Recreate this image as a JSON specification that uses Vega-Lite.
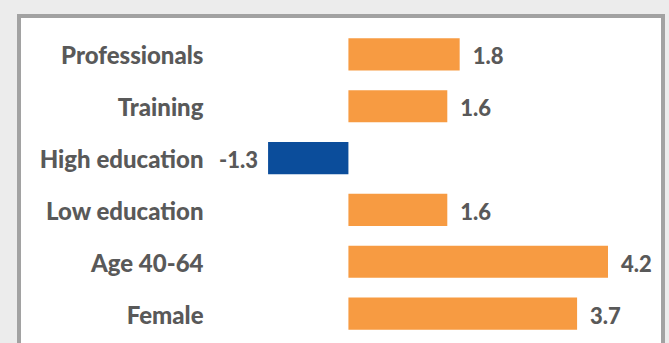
{
  "$schema": "https://vega.github.io/schema/vega-lite/v6.json",
  "width": 644,
  "height": 336,
  "autosize": {"type": "none"},
  "padding": {"left": 19, "top": 16, "right": 6, "bottom": 0},
  "background": "#ececec",
  "config": {
    "view": {"fill": "white", "stroke": "#a2a2a2", "strokeWidth": 4},
    "font": "Lato"
  },
  "data": {
    "values": [
      {"label": "Professionals", "value": 1.8},
      {"label": "Training", "value": 1.6},
      {"label": "High education", "value": -1.3},
      {"label": "Low education", "value": 1.6},
      {"label": "Age 40-64", "value": 4.2},
      {"label": "Female", "value": 3.7}
    ]
  },
  "transform": [{"calculate": "toString(datum.value)", "as": "value_text"}],
  "encoding": {
    "y": {
      "field": "label",
      "type": "nominal",
      "sort": null,
      "scale": {"paddingInner": 0.38, "paddingOuter": 0.43},
      "axis": {
        "title": null,
        "domain": false,
        "ticks": false,
        "grid": false,
        "offset": -184,
        "labelPadding": 0,
        "labelOffset": 3,
        "labelFont": "Lato",
        "labelFontSize": 24,
        "labelFontWeight": 900,
        "labelColor": "#595959",
        "labelLimit": 300
      }
    },
    "x": {
      "field": "value",
      "type": "quantitative",
      "scale": {"domain": [-5.33, 5.09], "nice": false, "zero": false},
      "axis": null
    }
  },
  "layer": [
    {
      "mark": {"type": "bar"},
      "encoding": {
        "color": {
          "condition": {"test": "datum.value < 0", "value": "#0B4D9B"},
          "value": "#F79B42"
        }
      }
    },
    {
      "transform": [{"filter": "datum.value >= 0"}],
      "mark": {"type": "text", "align": "left", "baseline": "middle", "dx": 13, "dy": 3, "fontSize": 22, "fontWeight": 900, "color": "#595959"},
      "encoding": {"text": {"field": "value_text", "type": "nominal"}}
    },
    {
      "transform": [{"filter": "datum.value < 0"}],
      "mark": {"type": "text", "align": "right", "baseline": "middle", "dx": -10, "dy": 3, "fontSize": 22, "fontWeight": 900, "color": "#595959"},
      "encoding": {"text": {"field": "value_text", "type": "nominal"}}
    }
  ]
}
